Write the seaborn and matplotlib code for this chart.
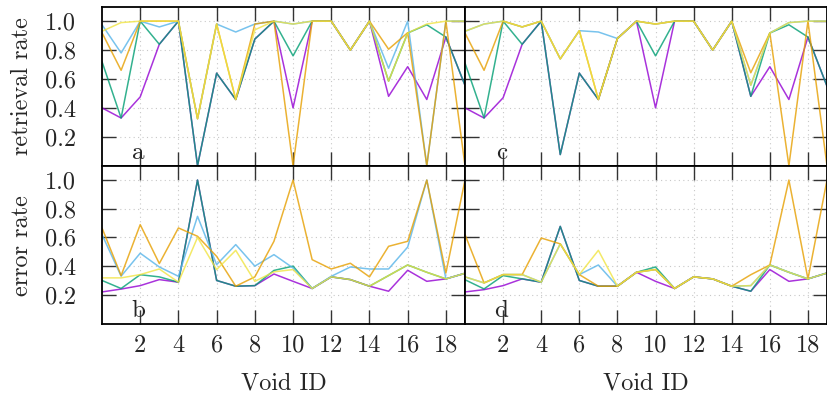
import numpy as np
import pandas as pd
import matplotlib
matplotlib.use("Agg")
import matplotlib.pyplot as plt
import seaborn as sns

void_ids = list(range(20))
series_names = ["s1", "s2", "s3", "s4", "s5"]
colors = ["#9400d3", "#009e73", "#56b4e9", "#e69f00", "#f0e442"]

# panel a: retrieval rate (left)
a_s1 = [0.40, 0.33, 0.476, 0.84, 1.0, 0.0, 0.64, 0.458, 0.876, 1.0, 0.40, 1.0, 1.0, 0.80, 1.0, 0.48, 0.685, 0.458, 0.89, 0.556]
a_s2 = [0.72, 0.33, 1.0, 0.84, 1.0, 0.0, 0.64, 0.458, 0.876, 1.0, 0.76, 1.0, 1.0, 0.80, 1.0, 0.585, 0.918, 0.975, 0.89, 0.556]
a_s3 = [0.975, 0.78, 1.0, 0.96, 1.0, 0.325, 0.98, 0.925, 0.98, 1.0, 0.98, 1.0, 1.0, 0.80, 1.0, 0.674, 1.0, 0.0, 1.0, 1.0]
a_s4 = [0.92, 0.66, 1.0, 1.0, 1.0, 0.325, 0.98, 0.458, 0.98, 1.0, 0.0, 1.0, 1.0, 0.80, 1.0, 0.806, 0.92, 0.0, 1.0, 0.0]
a_s5 = [0.93, 0.99, 1.0, 1.0, 1.0, 0.325, 0.98, 0.458, 0.94, 1.0, 0.98, 1.0, 1.0, 0.80, 1.0, 0.585, 0.918, 0.98, 1.0, 1.0]

# panel c: retrieval rate (right)
c_s1 = [0.40, 0.33, 0.47, 0.84, 1.0, 0.077, 0.64, 0.458, 0.88, 1.0, 0.40, 1.0, 1.0, 0.80, 1.0, 0.48, 0.685, 0.458, 0.89, 0.55]
c_s2 = [0.71, 0.33, 1.0, 0.84, 1.0, 0.077, 0.64, 0.458, 0.88, 1.0, 0.76, 1.0, 1.0, 0.80, 1.0, 0.48, 0.918, 0.975, 0.89, 0.55]
c_s3 = [0.93, 0.98, 1.0, 0.96, 1.0, 0.739, 0.934, 0.925, 0.88, 1.0, 0.98, 1.0, 1.0, 0.80, 1.0, 0.557, 0.918, 0.99, 1.0, 1.0]
c_s4 = [0.918, 0.66, 1.0, 0.96, 1.0, 0.739, 0.934, 0.458, 0.88, 1.0, 0.98, 1.0, 1.0, 0.80, 1.0, 0.643, 0.918, 0.0, 1.0, 0.0]
c_s5 = [0.93, 0.98, 1.0, 0.96, 1.0, 0.739, 0.934, 0.458, 0.88, 1.0, 0.98, 1.0, 1.0, 0.80, 1.0, 0.557, 0.918, 0.99, 1.0, 1.0]

# panel b: error rate (left)
b_s1 = [0.22, 0.24, 0.264, 0.306, 0.288, 1.0, 0.30, 0.26, 0.264, 0.345, 0.294, 0.244, 0.325, 0.306, 0.26, 0.225, 0.371, 0.294, 0.311, 0.35]
b_s2 = [0.30, 0.244, 0.34, 0.325, 0.288, 1.0, 0.30, 0.26, 0.264, 0.37, 0.40, 0.244, 0.325, 0.306, 0.26, 0.334, 0.408, 0.357, 0.311, 0.35]
b_s3 = [0.62, 0.33, 0.49, 0.394, 0.329, 0.747, 0.41, 0.55, 0.40, 0.48, 0.387, 0.244, 0.329, 0.394, 0.38, 0.38, 0.533, 1.0, 0.311, 0.35]
b_s4 = [0.666, 0.334, 0.689, 0.418, 0.666, 0.608, 0.468, 0.26, 0.325, 0.573, 1.0, 0.445, 0.38, 0.42, 0.325, 0.538, 0.573, 1.0, 0.352, 1.0]
b_s5 = [0.318, 0.318, 0.341, 0.38, 0.288, 0.60, 0.376, 0.51, 0.294, 0.36, 0.376, 0.244, 0.325, 0.306, 0.26, 0.334, 0.408, 0.357, 0.311, 0.35]

# panel d: error rate (right)
d_s1 = [0.22, 0.236, 0.264, 0.311, 0.288, 0.677, 0.30, 0.26, 0.26, 0.357, 0.294, 0.244, 0.325, 0.311, 0.26, 0.225, 0.376, 0.294, 0.311, 0.352]
d_s2 = [0.305, 0.241, 0.334, 0.311, 0.288, 0.677, 0.30, 0.26, 0.26, 0.357, 0.394, 0.244, 0.325, 0.311, 0.26, 0.225, 0.408, 0.357, 0.311, 0.352]
d_s3 = [0.325, 0.283, 0.341, 0.341, 0.288, 0.555, 0.341, 0.408, 0.26, 0.357, 0.376, 0.244, 0.325, 0.311, 0.26, 0.264, 0.408, 0.357, 0.311, 0.352]
d_s4 = [0.62, 0.283, 0.341, 0.341, 0.596, 0.555, 0.341, 0.26, 0.26, 0.357, 0.376, 0.244, 0.325, 0.311, 0.26, 0.34, 0.408, 1.0, 0.311, 1.0]
d_s5 = [0.325, 0.283, 0.341, 0.341, 0.288, 0.555, 0.341, 0.51, 0.26, 0.357, 0.376, 0.244, 0.325, 0.311, 0.26, 0.264, 0.408, 0.357, 0.311, 0.352]

x_ticks = [2, 4, 6, 8, 10, 12, 14, 16, 18]
y_ticks = [0.2, 0.4, 0.6, 0.8, 1.0]
y_ticklabels = ["0.2", "0.4", "0.6", "0.8", "1.0"]

sns.set_theme(style="white")
plt.rcParams["font.family"] = ["cmr10", "DejaVu Serif"]
plt.rcParams["axes.formatter.use_mathtext"] = True
FS = 17.5

fig = plt.figure(figsize=(8.28, 4.01), dpi=100)
W = 828.0
H = 401.0

def make_ax(x0, x1, y0, y1):
    return fig.add_axes([x0 / W, 1 - y1 / H, (x1 - x0) / W, (y1 - y0) / H])

panels = [
    ("a", [a_s1, a_s2, a_s3, a_s4, a_s5], make_ax(102, 465, 6.7, 165.7), True, False),
    ("c", [c_s1, c_s2, c_s3, c_s4, c_s5], make_ax(465, 827, 6.7, 165.7), False, False),
    ("b", [b_s1, b_s2, b_s3, b_s4, b_s5], make_ax(102, 465, 165.7, 323.5), True, True),
    ("d", [d_s1, d_s2, d_s3, d_s4, d_s5], make_ax(465, 827, 165.7, 323.5), False, True),
]

for letter, series, ax, show_y, show_x in panels:
    rows = []
    for name, vals in zip(series_names, series):
        for v_id, val in zip(void_ids, vals):
            rows.append({"void": v_id, "value": val, "series": name})
    df = pd.DataFrame(rows)
    sns.lineplot(data=df, x="void", y="value", hue="series", hue_order=series_names,
                 palette=colors, ax=ax, legend=False, estimator=None,
                 linewidth=1.1, alpha=0.8)
    ax.set_xlim(0, 19)
    ax.set_ylim(0, 1.1)
    ax.set_xticks(x_ticks)
    ax.set_yticks(y_ticks)
    ax.set_xlabel("")
    ax.set_ylabel("")
    ax.grid(True, color="#c8c8c8", linestyle=(0, (1, 3)), linewidth=0.8)
    ax.set_axisbelow(True)
    ax.tick_params(axis="both", direction="in", length=10, width=1.0, color="#333333",
                   top=True, right=True, bottom=True, left=True, labelsize=FS)
    ax.tick_params(axis="y", pad=18.5)
    ax.tick_params(axis="x", pad=8)
    if show_y:
        ax.set_yticklabels(y_ticklabels)
    else:
        ax.set_yticklabels([])
    if show_x:
        ax.set_xticklabels([str(t) for t in x_ticks])
    else:
        ax.set_xticklabels([])
    for sp in ax.spines.values():
        sp.set_color("black")
        sp.set_linewidth(1.3)
    ax.text(1.9, 0.09, letter, ha="center", va="center", fontsize=FS + 0.5)
    ax.set_facecolor("white")

fig.text(22 / W, 1 - 86 / H, "retrieval rate", rotation=90, ha="center", va="center", fontsize=FS)
fig.text(22 / W, 1 - 246 / H, "error rate", rotation=90, ha="center", va="center", fontsize=FS)
fig.text(283.5 / W, 1 - 383 / H, "Void ID", ha="center", va="center", fontsize=FS)
fig.text(646 / W, 1 - 383 / H, "Void ID", ha="center", va="center", fontsize=FS)

fig.savefig("out.png", dpi=100, facecolor="white")
